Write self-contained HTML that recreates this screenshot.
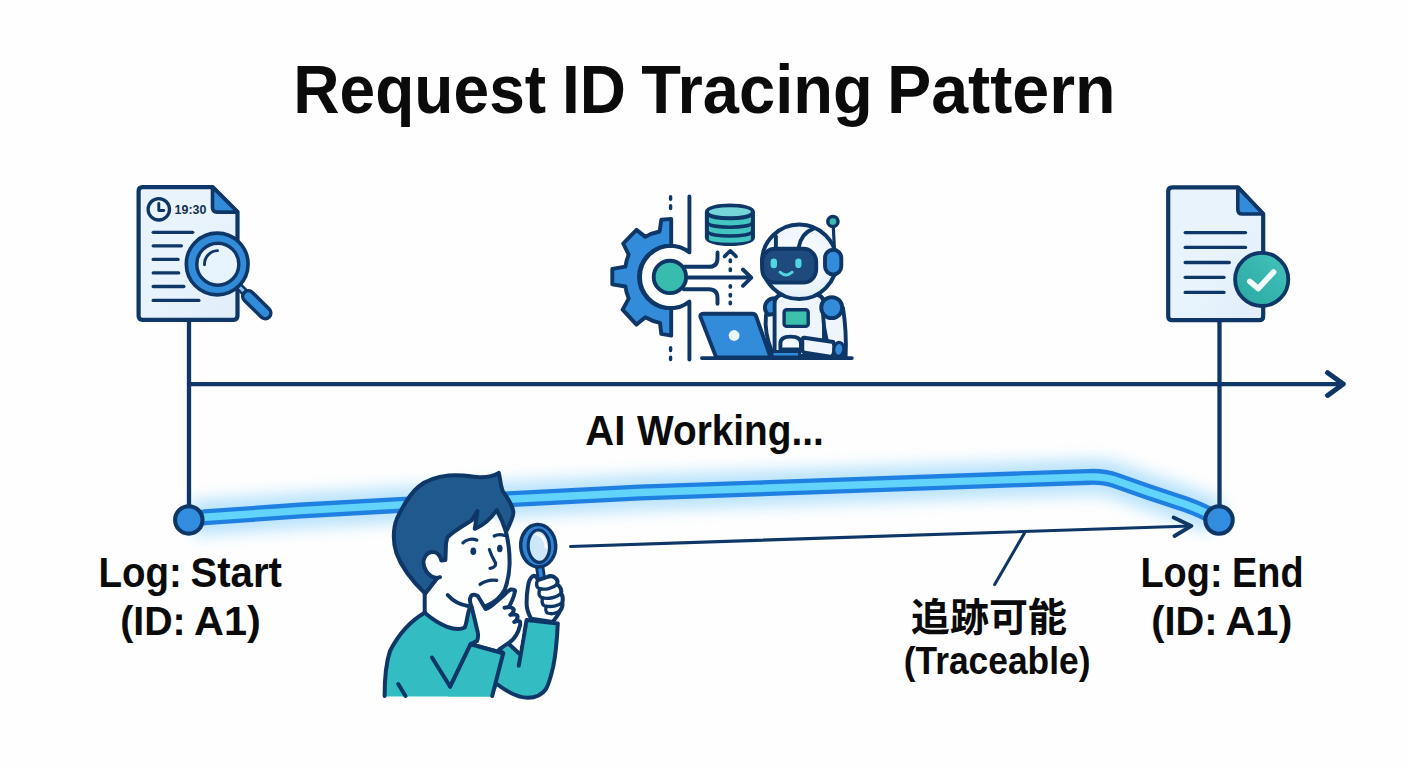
<!DOCTYPE html>
<html lang="en">
<head>
<meta charset="utf-8">
<title>Request ID Tracing Pattern</title>
<style>
html,body{margin:0;padding:0;background:#fefefe;}
body{width:1408px;height:768px;overflow:hidden;}
svg{display:block;}
text{font-family:"Liberation Sans","Noto Sans CJK JP",sans-serif;font-weight:bold;fill:#0b0b0b;}
</style>
</head>
<body>
<svg width="1408" height="768" viewBox="0 0 1408 768">
<defs>
<filter id="glow" x="-5%" y="-200%" width="110%" height="500%"><feGaussianBlur stdDeviation="7.5"/></filter>
<radialGradient id="headg" cx="0.5" cy="0.45" r="0.6"><stop offset="0" stop-color="#fbfdff"/><stop offset="0.6" stop-color="#f1f7fd"/><stop offset="1" stop-color="#dcebf8"/></radialGradient>
<linearGradient id="docg" x1="0" y1="0" x2="1" y2="1"><stop offset="0" stop-color="#e9f3fc"/><stop offset="0.5" stop-color="#e8f3fc"/><stop offset="1" stop-color="#e0eefa"/></linearGradient>
<linearGradient id="tealg" x1="1" y1="0" x2="0" y2="1"><stop offset="0" stop-color="#43c4bb"/><stop offset="1" stop-color="#2aa7a2"/></linearGradient>
</defs>
<rect width="1408" height="768" fill="#fefefe"/>

<!-- TITLE -->
<g id="title">
<text transform="translate(293.33,113.0) scale(0.9340,1)" font-size="68.61">Request</text>
<text transform="translate(562.11,113.0) scale(0.9383,1)" font-size="68.12">ID</text>
<text transform="translate(641.35,113.0) scale(0.9549,1)" font-size="68.12">Tracing</text>
<text transform="translate(886.93,113.0) scale(0.9742,1)" font-size="68.12">Pattern</text>
</g>

<!-- GLOW HALO -->
<g fill="none" stroke-linejoin="round">
<path d="M192 519.3L204.5 517.3L300 510.6L400 504.9L640 492.5L1020 479.3L1089 476.9Q1104 476.4 1115 480.2L1147.7 491.7L1184.7 504Q1205 511.2 1217 519" stroke="#90d3fa" stroke-width="36" opacity=".62" stroke-linecap="butt" filter="url(#glow)"/>
</g>
<!-- TIMELINE -->
<g id="timeline" stroke="#0e3768" stroke-width="4.3" fill="none" stroke-linecap="round" stroke-linejoin="round">
<path d="M189 322V506"/>
<path d="M1219.5 322V506"/>
<path d="M189 384.1H1341"/>
<path d="M1327.6 372.7L1343.3 384L1327.6 395.4" stroke-width="5"/>
</g>

<!-- GLOW LINE -->
<g id="glowline" fill="none" stroke-linecap="round" stroke-linejoin="round">
<path d="M192 519.3L204.5 517.3L300 510.6L400 504.9L640 492.5L1020 479.3L1089 476.9Q1104 476.4 1115 480.2L1147.7 491.7L1184.7 504Q1205 511.2 1217 519" stroke="#1f80e2" stroke-width="16"/>
<path d="M192 519.3L204.5 517.3L300 510.6L400 504.9L640 492.5L1020 479.3L1089 476.9Q1104 476.4 1115 480.2L1147.7 491.7L1184.7 504Q1205 511.2 1217 519" stroke="#62d4f9" stroke-width="7.4"/>
</g>
<circle cx="188.8" cy="519.9" r="13.7" fill="#338ddf" stroke="#0e3768" stroke-width="4.1"/>
<circle cx="1219" cy="520" r="13.7" fill="#338ddf" stroke="#0e3768" stroke-width="4.1"/>

<!-- TRACE ARROW -->
<g id="tracearrow" stroke="#0e3768" stroke-width="3.1" fill="none" stroke-linecap="round" stroke-linejoin="round">
<path d="M570.5 546.5L1191 526"/>
<path d="M1173.6 517.6L1191.4 525.9L1174.5 536" stroke-width="3.9"/>
<path d="M1024.5 533L994.7 584.5"/>
</g>

<!-- LABELS -->
<g id="labels">
<text transform="translate(98.42,587.1) scale(0.9253,1)" font-size="41.59">Log:</text>
<text transform="translate(190.43,587.1) scale(0.9656,1)" font-size="41.59">Start</text>
<text transform="translate(120.19,634.5) scale(0.9540,1)" font-size="41.16">(ID:</text>
<text transform="translate(194.09,634.5) scale(1.0063,1)" font-size="41.16">A1)</text>
<text transform="translate(1140.38,587.0) scale(0.9060,1)" font-size="41.88">Log:</text>
<text transform="translate(1232.09,587.0) scale(0.9041,1)" font-size="41.88">End</text>
<text transform="translate(1151.17,634.5) scale(0.9667,1)" font-size="41.16">(ID:</text>
<text transform="translate(1225.19,634.5) scale(1.0127,1)" font-size="41.16">A1)</text>
<text transform="translate(585.37,444.5) scale(0.9333,1)" font-size="42.75">AI</text>
<text transform="translate(637.10,444.5) scale(0.9069,1)" font-size="42.75">Working...</text>
<text transform="translate(903.76,674.0) scale(0.9206,1)" font-size="38.41">(Traceable)</text>
<text transform="translate(911.12,631.25) scale(1.0176,1)" font-size="38.32">追跡可能</text>
</g>

<!-- ICON-DOC-LEFT -->
<g id="docleft">
<path d="M142.6 187.1H212.5L237.5 212.1V315.8Q237.5 319.8 233.5 319.8H142.6Q138.6 319.8 138.6 315.8V191.1Q138.6 187.1 142.6 187.1Z" fill="url(#docg)" stroke="#0e3768" stroke-width="4.2" stroke-linejoin="round"/>
<path d="M212.5 187.1V207.6Q212.5 212.1 217 212.1H237.5Z" fill="#338cd9" stroke="#0e3768" stroke-width="3.6" stroke-linejoin="round"/>
<circle cx="158.8" cy="209.3" r="10.7" fill="#eaf4fc" stroke="#0e3768" stroke-width="3.3"/>
<path d="M158.8 203.4V210.5H163.8" fill="none" stroke="#0e3768" stroke-width="2.9" stroke-linecap="round" stroke-linejoin="round"/>
<text transform="translate(174.6,214.2) scale(0.93,1)" font-size="13.4" style="fill:#12304f">19:30</text>
<g stroke="#0e3768" stroke-width="3.3" stroke-linecap="round">
<path d="M153.2 232.3H192.7"/><path d="M153.2 245.8H181.4"/><path d="M153.2 259.4H178.1"/><path d="M153.2 272.9H178.7"/><path d="M153.2 286.5H183.9"/><path d="M153.2 300.4H198.9"/>
</g>
<!-- magnifier -->
<path d="M238.6 286L246 293.6" stroke="#0e3768" stroke-width="8" stroke-linecap="butt"/>
<path d="M238.6 286L246 293.6" stroke="#8fc1ee" stroke-width="3" stroke-linecap="butt"/>
<path d="M248.4 296.4L265.2 313" stroke="#0e3768" stroke-width="14.8" stroke-linecap="round"/>
<path d="M248.4 296.4L265.2 313" stroke="#338cd9" stroke-width="7.8" stroke-linecap="round"/>
<circle cx="217.2" cy="264" r="30.9" fill="#338cd9" stroke="#0e3768" stroke-width="3.6"/>
<circle cx="217.8" cy="264.2" r="21" fill="#e6f2fc" stroke="#0e3768" stroke-width="3.4"/>
<path d="M204.5 264.8A13.6 13.6 0 0 1 217.5 250.6" fill="none" stroke="#0e3768" stroke-width="2.9" stroke-linecap="round"/>
</g>
<!-- ICON-CENTER -->
<g id="centericon" stroke="#0e3768" stroke-width="3.9" stroke-linecap="round" stroke-linejoin="round" fill="none">
<!-- gear -->
<path d="M671.2 218.9L661.3 219.8L659.6 231.5A46 46 0 0 0 645.3 236.9L636.5 229.9L623.2 243.5L628.7 254.6A46 46 0 0 0 625.4 266.7L612.3 268.9L612.3 284.3L625.4 286.5A46 46 0 0 0 628.7 298.6L622.6 309.6L636.5 324.6L645.3 317.3A46 46 0 0 0 660.0 322.8L661.3 333.9L671.2 335.6L671.2 308.2A31.2 31.2 0 1 1 671.2 245.8Z" fill="#338cd9"/>
<path d="M689.4 196.4V252.4A31.2 31.2 0 1 0 689.4 301.6V359.6"/>
<path d="M670.6 196.6V199.2M670.6 205.6V208.6M670.6 347.6V350.6M670.6 357.2V359.6" stroke-width="3.4"/>
<!-- arrows from hub -->
<path d="M686 277.5H750"/>
<path d="M742.9 269.5L751.3 277.7L742.9 285.8"/>
<path d="M684 266.8H708.8Q717.5 266.8 717.5 258.2V252.4"/>
<path d="M684 289.2H708.8Q717.5 289.2 717.5 297.8V303.8"/>
<circle cx="669.9" cy="276.9" r="16.2" fill="#37bcae"/>
<!-- dotted up arrow -->
<path d="M724.6 256.4L730.3 250.8L736 256.4" stroke-width="3.6"/>
<path d="M730.3 260.2V261.4M730.3 269.1V270.3M730.3 285.8V287M730.3 294.6V295.8M730.3 302.4V303.6" stroke-width="3.7"/>
<!-- database -->
<path d="M706.8 211.8A23.1 6.4 0 0 1 753 211.8V237.4A23.1 6.6 0 0 1 706.8 237.4Z" fill="#0e3768"/>
<ellipse cx="729.9" cy="211.8" rx="21" ry="4.5" fill="#74d6d8" stroke="none"/>
<g fill="#43c5c1" stroke="none">
<path d="M708.9 216.6A21 3.6 0 0 0 750.9 216.6V221.8A21 3.6 0 0 1 708.9 221.8Z"/>
<path d="M708.9 225.4A21 3.6 0 0 0 750.9 225.4V230.6A21 3.6 0 0 1 708.9 230.6Z"/>
<path d="M708.9 234.2A21 3.6 0 0 0 750.9 234.2V239.2A21 3.6 0 0 1 708.9 239.2Z"/>
</g>
<!-- ROBOT -->
<!-- left shoulder + arm -->
<ellipse cx="774.5" cy="307.6" rx="9.6" ry="9.4" fill="#338cd9"/>
<path d="M766 315Q764 332 772 352H790V312Z" fill="#eef6fc"/>
<!-- torso -->
<path d="M774.6 356V304Q774.6 294 786 294H812Q824 294 824 304V356Z" fill="#eef6fc"/>
<rect x="784.1" y="309.8" width="24.1" height="16.6" rx="2.6" fill="#3dbfae" stroke-width="3.4"/>
<!-- right arm -->
<path d="M823 314Q823.5 328 826.6 340L845.6 357Q846.8 332 843 308Z" fill="#eef6fc"/>
<circle cx="831.7" cy="307.6" r="10.5" fill="#338cd9"/>
<!-- forearm + hand -->
<path d="M804.4 337.8Q802.2 337.6 802.3 340.4V350Q802.4 352.2 804.8 352.6L832 357Q836 351 833.4 342Z" fill="#eef6fc"/>
<path d="M780.4 349.4V343.5Q780.4 336.6 790.5 336.6Q801 336.6 801 343.5V349.4Z" fill="#f4f9fd"/>
<ellipse cx="838.8" cy="349.4" rx="5" ry="7" fill="#338cd9" stroke-width="3.2" transform="rotate(8 838.8 349.4)"/>
<!-- head -->
<circle cx="799.3" cy="261.8" r="37.3" fill="url(#headg)" stroke-width="4"/>
<path d="M775.9 247V236.5"/>
<path d="M798.8 247Q801.5 233 813.5 228.6"/>
<rect x="762.2" y="248.7" width="54" height="33.9" rx="13" fill="#1f4a7d"/>
<rect x="770.6" y="258.4" width="6.4" height="9.8" rx="3.2" fill="#50d6e1" stroke="none"/>
<rect x="795.3" y="258.5" width="6.2" height="9.6" rx="3.1" fill="#50d6e1" stroke="none"/>
<path d="M780 272.2Q786 277.6 792.2 272.2" stroke="#50d6e1" stroke-width="2.9"/>
<!-- antenna + ear -->
<path d="M834.4 248.5L833.3 227" stroke-width="3.2"/>
<circle cx="832.9" cy="221.5" r="5.1" fill="#3bbab0" stroke-width="3.5"/>
<rect x="825" y="249.8" width="16.3" height="24.6" rx="8.1" fill="#338cd9"/>
<!-- laptop -->
<path d="M772 351.6H799.5V357H772Z" fill="#338cd9" stroke-width="3"/>
<path d="M703.5 313.8H752.2Q755.2 313.8 756.2 316.6L770.6 357.4H716.2L700.6 317.4Q699.4 313.8 703.5 313.8Z" fill="#338cd9"/>
<circle cx="734.1" cy="335.5" r="5.4" fill="#e8f6fc" stroke="none"/>
<path d="M702 358.1H851.8"/>
</g>
<!-- ICON-DOC-RIGHT -->
<g id="docright">
<path d="M1172.2 187.3H1237.8L1263.2 214V316.2Q1263.2 320.2 1259.2 320.2H1172.2Q1168.2 320.2 1168.2 316.2V191.3Q1168.2 187.3 1172.2 187.3Z" fill="url(#docg)" stroke="#0e3768" stroke-width="4.2" stroke-linejoin="round"/>
<path d="M1237.8 187.3V209.5Q1237.8 214 1242.3 214H1263.2Z" fill="#338cd9" stroke="#0e3768" stroke-width="3.6" stroke-linejoin="round"/>
<g stroke="#0e3768" stroke-width="3.3" stroke-linecap="round">
<path d="M1185.2 232.6H1245.5"/><path d="M1185.2 247.4H1245.5"/><path d="M1185.2 262.5H1229.3"/><path d="M1185.2 277.3H1224"/><path d="M1185.2 292.4H1224"/>
</g>
<circle cx="1261.7" cy="279.4" r="26.6" fill="url(#tealg)" stroke="#0e3768" stroke-width="3.8"/>
<path d="M1249.8 281.4L1258.2 288.6L1273.6 272" fill="none" stroke="#f4fbfb" stroke-width="5.6" stroke-linecap="round" stroke-linejoin="round"/>
</g>
<!-- PERSON -->
<g id="person" stroke="#0e3768" stroke-width="4" stroke-linecap="round" stroke-linejoin="round" fill="none">
<!-- neck + face base -->
<path d="M424.7 590V614L470 634L500 610L509 580L509.6 562L506 532L480 505L445 535Z" fill="#fdfefe" stroke="none"/>
<ellipse cx="434" cy="565" rx="12" ry="15" fill="#fdfefe" stroke="none"/>
<!-- sweater body -->
<path d="M424.7 612.8C410.5 621 398 635.5 390 651C386 663 384.6 680 384.6 696.5H492L500.3 651L477 640L474 614L469.3 609.2C467 616 466.8 623 464.8 627.4C456 632 440 626 424.7 612.8Z" fill="#33bcc1" stroke="none"/>
<path d="M384.6 696C384.6 680 386 663 390 651C398 635.5 410.5 621 424.7 612.8"/>
<path d="M424.7 612.8C440 626 456 632 464.8 627.4C466.8 623 467 616 469.3 609.2"/>
<path d="M424.7 593.5V612.8"/>
<path d="M398.2 684L405.5 696"/>
<path d="M432 657.5L450.2 686.7L471.2 643.8"/>
<!-- jaw / face outline -->
<path d="M447.7 595C452 600 459 604.5 468 606"/>
<path d="M506 531.9C508 540 509.8 552 509.6 564C509.4 573 507.5 582 505 589.2C501 597 494 603 486 606"/>
<!-- hair -->
<path d="M498.8 472.9C494 476 486 477.5 477.9 477.1C468 476 458 474.5 448.8 475.6C435 477 425 481.5 418.6 486.6C409.5 494 402.5 507 397.2 518C392.6 529 393 543 396.4 553C401 566 410 579 425.3 593.6L437.4 578C433 577.6 428.4 574.8 426.2 571C423 566 422.8 560 425.5 556C428.5 551.4 434.5 550.8 438 554C440 556 441 558.4 441.3 560.4L445.4 559.9L446 543.4L447.4 537.4C452 532 462 526.4 471.7 520.4L477.5 511L474.8 528.8C482 526 490 520 496.7 510C500 516 504 525 506 531.9C510 524 514 516 513.3 512.1C513 505 506 496 502.9 491.3C500.5 486 500.5 480 498.8 472.9Z" fill="#20598e"/>
<!-- ear -->
<path d="M436.6 578.2L440 577.2"/>
<!-- face features -->
<path d="M462.9 542.9C466 539.5 472 538 476.9 540.2" stroke-width="3.2"/>
<path d="M494.2 536C497 534.4 501 534.2 504.6 535.4" stroke-width="3.2"/>
<ellipse cx="473.3" cy="551.3" rx="2.9" ry="3.8" fill="#0e3768" stroke="none"/>
<ellipse cx="499.8" cy="548.5" rx="2.8" ry="3.8" fill="#0e3768" stroke="none"/>
<path d="M489.4 549.6C491 555 493.5 559.5 495.6 563.1C496 566 493.5 568 490 568.3" stroke-width="3.2"/>
<path d="M480 584.4C485 581 491 579.6 496.7 580.4" stroke-width="3.3"/>
<!-- right arm sleeve (holding magnifier) -->
<path d="M526.6 620.1L557.8 623.4C557 640 555 658 553.2 666.6C551 676 549 684 546 689C541 696 535 697.8 528 697.8C518 697.8 509 693 498.5 684.9L492 696.5L500.3 651L509.7 644.8L518.8 653.3V665.7Z" fill="#33bcc1" stroke="none"/>
<path d="M518.8 665.7L526.6 620.1L557.8 623.4C557 640 555 658 553.2 666.6C551 676 549 684 546 689C541 696 535 697.8 528 697.8C518 697.8 508 692.5 497.5 684.5"/>
<!-- white gap between hand and sleeve -->
<path d="M509.7 644.8L518.8 653.3L522.5 632L516 636Z" fill="#fdfefe" stroke="none"/>
<path d="M509.7 644.8L518.8 653.3"/>
<!-- chin hand -->
<path d="M470.6 644.2L477.1 640.9C478.5 637 478 633 477.8 632.5L471.9 607.7C470.5 604 469.5 601.5 470 599.3C470.5 596 471.8 594.8 473.2 594.7C475 594.5 476.5 595 477.8 596L485.6 609C488 608.5 491 606.5 494 603.8L504.5 594.7C507 592 509 590 511 589.5C514 589.3 515.5 590.3 514.9 591.5C514.5 594 513.5 597.5 512.3 600L509 607.1C512 607.5 514.5 609 513.6 610.3C513.5 612.5 512 614 510.3 614.9C514 614 517.5 614.6 517.5 616.2C517.8 619 516 621 514.2 622C517 620.5 520 620.5 520 622C520.5 624 520.2 626 519.4 627.3C519 630 517.5 633 516.2 635C514 639 510.5 642 507 644.2L499.3 649.4L503.2 653.3Z" fill="#fdfefe"/>
<path d="M485.6 609L488 605.5L491 606.3Z" fill="#0e3768" stroke-width="1.5"/>
<path d="M504.5 607.7L509 607.1"/>
<!-- sleeve of chin arm -->
<path d="M470.6 644.2L503.2 653.3L492 696.5H448L452 684Z" fill="#33bcc1" stroke="none"/>
<path d="M450.2 686.7L470.6 644.2L503.2 653.3L492.2 696"/>
<!-- magnifier (small) -->
<path d="M539.6 566L542.2 584" stroke-width="9.2" stroke-linecap="butt"/>
<path d="M539.6 566L542.2 584" stroke="#2f86d8" stroke-width="3.6" stroke-linecap="butt"/>
<ellipse cx="538.2" cy="545.7" rx="17.5" ry="21.2" fill="#2f86d8" stroke-width="3.5" transform="rotate(-3 538.2 545.7)"/>
<ellipse cx="538.9" cy="546.2" rx="10.7" ry="16.2" fill="#cde7f8" stroke-width="3.2" transform="rotate(-3 538.9 546.2)"/>
<path d="M536.8 534.4C542.6 535 545.6 540.5 545.9 547.4" stroke="#fafdff" stroke-width="2.8"/>
<!-- fist -->
<path d="M531.1 618.8C528 613 526.4 608 526.6 602.5C526.6 597 527 592 527.9 586.9C528.5 582.5 529.5 579.5 531.1 577.8C532.5 576 534.5 575.6 536 576.6L538 580L546.8 577.2C549.5 575.8 553 576 555.2 577.8C557.5 579.5 558 582 557.2 584.3C560 586.5 561.8 590 561.1 593.4C562.8 596 563.2 599.5 562.4 602.5C562.8 605.5 562 608.5 560.4 610.3C558.5 614.5 555.5 618.5 552.6 622.1Z" fill="#fdfefe"/>
<path d="M557.2 584.3C553 588.5 545 590 539 588.5C536 587 536 582.5 538 580" stroke-width="3.4"/>
<path d="M561.1 593.4C557 597.5 548 599.5 541.5 597.6C538.6 596.4 538.3 592 540 589" stroke-width="3.4"/>
<path d="M562.4 602.5C558.5 606 551 607.5 544.5 605.8C541.8 604.6 541.5 600.6 543 598" stroke-width="3.4"/>
<path d="M560.4 610.3C557 613.5 551.5 614.5 547.5 613C545.5 611.8 545.4 608.6 546.6 606.5" stroke-width="3.4"/>
</g>
</svg>
</body>
</html>
